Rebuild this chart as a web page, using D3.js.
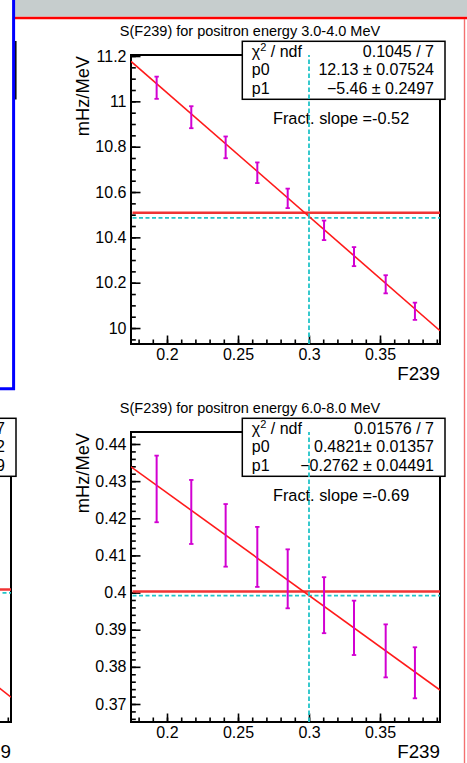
<!DOCTYPE html>
<html>
<head>
<meta charset="utf-8">
<script src="https://cdn.jsdelivr.net/npm/d3@7"></script>
<style>
  body { margin: 0; background: #fff; }
  text { font-family: "Liberation Sans", Arial, Helvetica, sans-serif; }
</style>
</head>
<body>
<div id="chart"></div>
<script>
// fraction of F239 for each point
var f239 = [0.1927, 0.2171, 0.2413, 0.2636, 0.285, 0.3106, 0.3317, 0.354, 0.3746];

// rate per MeV, 3.0-4.0 MeV bin
var rate34 = [11.06, 10.93, 10.797, 10.685, 10.572, 10.431, 10.315, 10.193, 10.074];
var err34  = [0.049, 0.0485, 0.048, 0.0455, 0.043, 0.043, 0.042, 0.040, 0.038];

// rate per MeV, 6.0-8.0 MeV bin
var rate68 = [0.4279, 0.4217, 0.4154, 0.4096, 0.4037, 0.3966, 0.3905, 0.3843, 0.3784];
var err68  = [0.00897, 0.00862, 0.00843, 0.00808, 0.00794, 0.00754, 0.00732, 0.00714, 0.00687];

var titles = ['S(F239) for positron energy 3.0-4.0 MeV', 'S(F239) for positron energy 6.0-8.0 MeV'];
var chi2Text = ['0.1045 / 7', '0.01576 / 7'];
var p0Text = ['12.13 \u00b1 0.07524', '0.4821\u00b1 0.01357'];
var p1Text = ['\u22125.46 \u00b1 0.2497', '\u22120.2762 \u00b1 0.04491'];
var p0 = [12.13, 0.4821];
var p1 = [-5.46, -0.2762];
var fractSlope = ['-0.52', '-0.69'];
var meanLine = [10.509, 0.4003];
var refLine = [10.486, 0.3992];
var refF239 = 0.3;

var xTicks = [0.2, 0.25, 0.3, 0.35];
var yTicks34 = [10, 10.2, 10.4, 10.6, 10.8, 11, 11.2];
var yTicks68 = [0.37, 0.38, 0.39, 0.4, 0.41, 0.42, 0.43, 0.44];

// neighbouring pad on the left, only its right edge is in view
var nbP0 = 0.4895, nbP1 = -0.3, nbMean = 0.4008, nbRef = 0.3999;
var nbStats = ['7', '2', '9'];

var W = 467, H = 763;
var magenta = '#d200d2', cyan = '#22c4c8', red = '#ff1a1a';
var fmt = function(v) { return String(+v.toFixed(3)); };

var svg = d3.select('#chart').append('svg')
  .attr('width', W)
  .attr('height', H);

svg.append('rect').attr('width', W).attr('height', H).attr('fill', '#fff');

var clipId = 0;

function drawPanel(o) {
  var g = svg.append('g')
    .attr('transform', 'translate(' + o.left + ',' + o.top + ')');

  var x = d3.scaleLinear().domain([0.17465, 0.39225]).range([0, o.w]);
  var y = d3.scaleLinear().domain(o.yDomain).range([o.h, 0]);

  var id = 'clip' + (clipId++);
  g.append('clipPath').attr('id', id)
    .append('rect').attr('width', o.w).attr('height', o.h);

  // axes, ticks point into the frame like ROOT
  var xMinor = d3.range(0.18, 0.395, 0.01);
  var yMinor = d3.range(o.minorStart, o.yDomain[1], o.minorStep);
  var labels = o.partial ? '' : fmt;

  g.append('g')
    .attr('transform', 'translate(0,' + o.h + ')')
    .call(d3.axisBottom(x).tickValues(xMinor).tickSize(-4.5).tickFormat(''))
    .call(function(a) { a.select('.domain').remove(); });
  var xa = g.append('g')
    .attr('transform', 'translate(0,' + o.h + ')')
    .call(d3.axisBottom(x).tickValues(xTicks).tickSize(-8.5).tickPadding(4.6).tickFormat(labels));
  xa.select('.domain').remove();

  g.append('g')
    .call(d3.axisLeft(y).tickValues(yMinor).tickSize(-4.8).tickFormat(''))
    .call(function(a) { a.select('.domain').remove(); });
  var ya = g.append('g')
    .call(d3.axisLeft(y).tickValues(o.yTicks).tickSize(-9.5).tickPadding(4.5).tickFormat(labels));
  ya.select('.domain').remove();

  g.selectAll('.tick line').attr('stroke', '#000').attr('stroke-width', 1.6);
  if (o.partial) {
    g.selectAll('.tick text').remove();
  }
  g.selectAll('.tick text')
    .attr('fill', '#000')
    .style('font-size', '16px')
    .style('font-family', '"Liberation Sans", Arial, Helvetica, sans-serif');

  g.append('rect')
    .attr('width', o.w).attr('height', o.h)
    .attr('fill', 'none').attr('stroke', '#000').attr('stroke-width', 2);

  var plot = g.append('g').attr('clip-path', 'url(#' + id + ')');

  // horizontal reference lines
  plot.append('line')
    .attr('x1', 1.5).attr('x2', o.w)
    .attr('y1', y(o.mean)).attr('y2', y(o.mean))
    .attr('stroke', '#f03434').attr('stroke-width', 2.5);
  plot.append('line')
    .attr('x1', 1.5).attr('x2', o.w)
    .attr('y1', y(o.ref)).attr('y2', y(o.ref))
    .attr('stroke', cyan).attr('stroke-width', 1.8)
    .attr('stroke-dasharray', '4,2.5');

  // linear fit
  var xd = x.domain();
  plot.append('line')
    .attr('x1', x(xd[0])).attr('y1', y(o.p0 + o.p1 * xd[0]))
    .attr('x2', x(xd[1])).attr('y2', y(o.p0 + o.p1 * xd[1]))
    .attr('stroke', red).attr('stroke-width', 1.6);

  // error bars
  var pts = d3.range(o.values.length);
  var bars = plot.selectAll('g.err').data(pts).enter().append('g').attr('class', 'err');
  bars.append('line')
    .attr('x1', function(i) { return x(f239[i]); })
    .attr('x2', function(i) { return x(f239[i]); })
    .attr('y1', function(i) { return y(o.values[i] - o.errors[i]); })
    .attr('y2', function(i) { return y(o.values[i] + o.errors[i]); })
    .attr('stroke', magenta).attr('stroke-width', 2);
  [-1, 1].forEach(function(s) {
    bars.append('line')
      .attr('x1', function(i) { return x(f239[i]) - 2.2; })
      .attr('x2', function(i) { return x(f239[i]) + 2.2; })
      .attr('y1', function(i) { return y(o.values[i] + s * o.errors[i]); })
      .attr('y2', function(i) { return y(o.values[i] + s * o.errors[i]); })
      .attr('stroke', magenta).attr('stroke-width', 1.8);
  });

  // stats box
  var bx = o.w - 197.7, bw = 202.7, by = -13.7, bh = 58;
  g.append('rect')
    .attr('x', bx).attr('y', by).attr('width', bw).attr('height', bh)
    .attr('fill', '#fff').attr('stroke', '#000').attr('stroke-width', 1.5);
  var rows = [o.chi2, o.p0Text, o.p1Text];
  var names = ['chi', 'p0', 'p1'];
  rows.forEach(function(r, k) {
    var yy = by + 15.2 + k * 18.5;
    if (!o.partial) {
      var t = g.append('text')
        .attr('x', bx + 9.5).attr('y', yy)
        .style('font-size', '16px');
      if (names[k] === 'chi') {
        t.append('tspan').text('\u03c7');
        t.append('tspan').attr('dy', -6).style('font-size', '11px').text('2');
        t.append('tspan').attr('dy', 6).text(' / ndf');
      } else {
        t.text(names[k]);
      }
    }
    g.append('text')
      .attr('x', bx + bw - 11).attr('y', yy)
      .attr('text-anchor', 'end')
      .style('font-size', '16px')
      .text(r);
  });

  if (o.fract) {
    g.append('text')
      .attr('x', 142).attr('y', 68.5)
      .style('font-size', '16.3px')
      .text('Fract. slope =' + o.fract);
  }

  // vertical dashed line at the reference F239
  g.append('line')
    .attr('x1', x(refF239)).attr('x2', x(refF239))
    .attr('y1', o.h).attr('y2', 0)
    .attr('stroke', cyan).attr('stroke-width', 1.8)
    .attr('stroke-dasharray', '4.5,2.5');

  if (o.title) {
    g.append('text')
      .attr('x', 119).attr('y', -19)
      .attr('text-anchor', 'middle')
      .style('font-size', '14.5px')
      .text(o.title);
  }

  // axis titles; on the clipped neighbour only the tail of "F239" shows
  g.append('text')
    .attr('x', o.w).attr('y', o.h + 35.5)
    .attr('text-anchor', 'end')
    .style('font-size', '18.8px')
    .text(o.partial ? '9' : 'F239');

  if (!o.partial) {
    g.append('text')
      .attr('transform', 'translate(-42,1)rotate(-90)')
      .attr('text-anchor', 'end')
      .style('font-size', '18.3px')
      .text('mHz/MeV');
  }
}

// canvas decorations: toolbar strip, pad borders
svg.append('rect').attr('x', 15).attr('y', 0).attr('width', W - 15).attr('height', 16.7).attr('fill', '#c6cdcd');
svg.append('line').attr('x1', 15).attr('x2', W).attr('y1', 18).attr('y2', 18)
  .attr('stroke', '#ff0000').attr('stroke-width', 2.6);
svg.append('line').attr('x1', 464.5).attr('x2', 464.5).attr('y1', 19).attr('y2', H)
  .attr('stroke', '#f47070').attr('stroke-width', 1.4);

// neighbour pad, bottom left
drawPanel({
  left: 131 - 429, top: 432, w: 309, h: 290,
  yDomain: [0.36515, 0.44323], yTicks: yTicks68, minorStart: 0.366, minorStep: 0.002,
  values: [], errors: [],
  p0: nbP0, p1: nbP1, mean: nbMean, ref: nbRef,
  chi2: nbStats[0], p0Text: nbStats[1], p1Text: nbStats[2], partial: true
});

// neighbour pad, top left: edge of its stats box and the blue selection border
svg.append('line').attr('x1', 15.8).attr('x2', 15.8).attr('y1', 41).attr('y2', 99.5)
  .attr('stroke', '#000').attr('stroke-width', 1.5);
svg.append('path').attr('d', 'M13.6,0V388.8H0')
  .attr('fill', 'none').attr('stroke', '#0000ff').attr('stroke-width', 3);

drawPanel({
  left: 131, top: 55, w: 309, h: 289,
  yDomain: [9.9296, 11.2044], yTicks: yTicks34, minorStart: 9.95, minorStep: 0.05,
  values: rate34, errors: err34,
  p0: p0[0], p1: p1[0], mean: meanLine[0], ref: refLine[0],
  chi2: chi2Text[0], p0Text: p0Text[0], p1Text: p1Text[0],
  fract: fractSlope[0], title: titles[0]
});

drawPanel({
  left: 131, top: 432, w: 309, h: 290,
  yDomain: [0.36515, 0.44323], yTicks: yTicks68, minorStart: 0.366, minorStep: 0.002,
  values: rate68, errors: err68,
  p0: p0[1], p1: p1[1], mean: meanLine[1], ref: refLine[1],
  chi2: chi2Text[1], p0Text: p0Text[1], p1Text: p1Text[1],
  fract: fractSlope[1], title: titles[1]
});
</script>
</body>
</html>
